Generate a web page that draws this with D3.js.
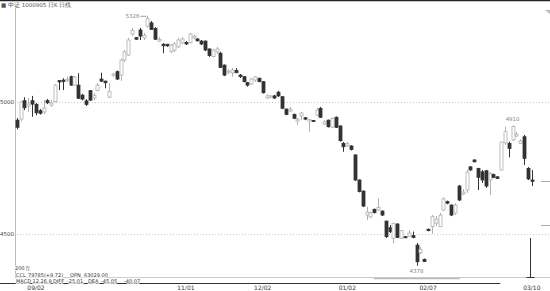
<!DOCTYPE html>
<html>
<head>
<meta charset="utf-8">
<script src="https://cdn.jsdelivr.net/npm/d3@7"></script>
<style>
  body { margin: 0; background: #fff; }
  text { font-family: "DejaVu Sans", sans-serif; }
</style>
</head>
<body>
<div id="chart"></div>
<script>
// daily candles
var opens  = [4930,4934,5004,4984,5004,4990,4966,4961,5004,4987,5000,5080,5082,5079,5095,5063,5063,5025,5003,5042,
              5014,5042,5086,5078,5017,5100,5114,5101,5158,5177,5257,5243,5272,5242,5287,5299,5278,5230,5218,5218,
              5190,5196,5208,5223,5225,5224,5242,5238,5230,5230,5200,5171,5189,5184,5139,5112,5109,5118,5101,5095,
              5072,5067,5082,5089,5076,5014,5017,5022,5036,5019,4972,4965,4952,4927,4946,4939,4927,4929,4949,4975,
              4915,4930,4903,4941,4908,4842,4833,4832,4798,4703,4661,4570,4563,4592,4589,4585,4547,4522,4482,4536,
              4482,4488,4490,4492,4456,4427,4402,4516,4526,4539,4526,4589,4621,4608,4578,4680,4650,4665,4753,4779,
              4747,4734,4738,4703,4724,4715,4741,4844,4842,4855,4870,4842,4867,4747,4703];
var highs  = [4938,5002,5017,5014,5022,4995,4972,5006,5010,5006,5067,5082,5089,5095,5099,5098,5108,5030,5010,5044,
              5033,5071,5110,5080,5070,5110,5118,5162,5196,5242,5280,5245,5280,5261,5326,5306,5283,5245,5222,5218,
              5219,5226,5242,5245,5230,5261,5255,5240,5234,5232,5202,5200,5208,5189,5141,5124,5128,5128,5105,5097,
              5075,5090,5097,5091,5078,5029,5026,5026,5041,5021,4974,4980,4955,4938,4962,4942,4934,4930,4976,4980,
              4930,4932,4940,4944,4910,4847,4847,4835,4800,4705,4663,4602,4583,4594,4634,4588,4549,4532,4541,4539,
              4513,4490,4513,4507,4464,4449,4405,4519,4570,4566,4578,4638,4625,4610,4616,4684,4669,4741,4755,4781,
              4749,4741,4741,4733,4727,4717,4848,4905,4848,4910,4885,4858,4874,4752,4741];
var lows   = [4895,4925,4968,4961,4943,4949,4951,4953,4991,4980,4997,5044,5044,5074,5060,5060,5010,5005,4984,5003,
              5006,5040,5075,5051,5014,5095,5082,5079,5151,5173,5249,5235,5234,5234,5280,5272,5234,5226,5184,5208,
              5185,5189,5204,5219,5215,5221,5237,5229,5215,5192,5170,5168,5181,5128,5097,5105,5095,5109,5090,5074,
              5057,5063,5075,5074,5031,5010,5013,5010,5018,4972,4949,4961,4934,4912,4930,4930,4886,4924,4946,4938,
              4912,4902,4900,4900,4849,4810,4828,4815,4699,4656,4600,4551,4558,4576,4585,4566,4483,4502,4463,4483,
              4480,4482,4487,4482,4378,4422,4392,4508,4498,4528,4525,4585,4611,4566,4570,4623,4646,4654,4738,4770,
              4665,4692,4673,4646,4710,4707,4739,4836,4789,4851,4866,4839,4760,4703,4680];
var closes = [4903,4999,4977,4991,4991,4958,4956,4976,4996,4995,5063,5075,5077,5085,5063,5094,5013,5010,4990,5006,
              5023,5063,5078,5072,5038,5105,5086,5158,5189,5234,5270,5237,5249,5251,5316,5274,5237,5236,5212,5212,
              5215,5219,5234,5238,5219,5257,5249,5231,5219,5196,5175,5196,5200,5130,5101,5116,5120,5110,5095,5076,
              5063,5086,5094,5076,5034,5022,5022,5014,5022,4975,4952,4972,4937,4934,4957,4934,4932,4926,4968,4941,
              4923,4905,4937,4903,4852,4829,4841,4819,4703,4659,4604,4581,4578,4579,4599,4570,4488,4507,4539,4485,
              4511,4484,4502,4485,4393,4440,4394,4511,4564,4554,4570,4631,4615,4570,4608,4627,4657,4733,4741,4772,
              4713,4703,4680,4728,4713,4709,4847,4886,4823,4906,4877,4851,4785,4707,4698];

var priceTicks = [5000, 4500];
var dateIdx    = [5, 44, 64, 86, 107, 134];
var dateLabels = ["09/02", "11/01", "12/02", "01/02", "02/07", "03/10"];
// marked extremes: candle index, value, where the label sits
var marks = [{i: 34, v: 5326, pos: "left"}, {i: 104, v: 4378, pos: "below"}, {i: 129, v: 4910, pos: "above"}];
var rightMarks = [4698, 4532];
// segments of the sub-chart strip at the bottom (candle index ranges)
var stripDark = [[10.6, 20.3], [25.7, 52], [59.5, 91.4], [109.8, 118.5], [125.8, 136.3]];
var stripGray = [[92.9, 115.3]];
// indicator readout rows: [text, x]
var infoRow1 = [["200万", 15]];
var infoRow2 = [["CCL", 16], ["79785(+9.72)", 28], ["OPN", 70], ["63029.00", 84]];
var infoRow3 = [["MACD 12.26.9", 16], ["DIFF", 53], ["-25.01", 67], ["DEA", 88], ["-45.05", 101], ["-40.07", 124]];

var W = 550, H = 291;
var n = opens.length;
var data = d3.range(n).map(function(i) {
  return {i: i, o: opens[i], h: highs[i], l: lows[i], c: closes[i]};
});

var svg = d3.select("#chart").append("svg")
  .attr("width", W).attr("height", H);

var x = d3.scaleBand()
  .domain(d3.range(n))
  .range([15.4, 533.2])
  .paddingInner(0.3);
var xc = function(i) { return x(Math.round(i)) + x.bandwidth() / 2 + (i - Math.round(i)) * x.step(); };

var y = d3.scaleLinear()
  .domain([4500, 5000])
  .range([233.5, 101.7]);

// frame
svg.append("line").attr("x1", 0).attr("x2", W).attr("y1", 0.5).attr("y2", 0.5)
  .style("stroke", "#222").style("stroke-width", 1.5);
svg.append("line").attr("x1", 15.5).attr("x2", 15.5).attr("y1", 8).attr("y2", 277)
  .style("stroke", "#bbb");
svg.append("line").attr("x1", 15).attr("x2", W).attr("y1", 277.5).attr("y2", 277.5)
  .style("stroke", "#ccc");

// title
svg.append("text").attr("x", 1).attr("y", 7)
  .style("font-size", "5.5px").style("fill", "#555")
  .text("■ 中证 1000905 日K 日线");

// top-right marker
svg.append("path").attr("d", "M545,10 L550,10 L550,14 Z").style("fill", "#bbb");

// grid + price labels
svg.selectAll(".grid").data(priceTicks).enter().append("line")
  .attr("class", "grid")
  .attr("x1", 2).attr("x2", W)
  .attr("y1", function(d) { return Math.round(y(d)) + 0.5; })
  .attr("y2", function(d) { return Math.round(y(d)) + 0.5; })
  .style("stroke", "#c8c8c8").style("stroke-dasharray", "1,2");
svg.selectAll(".ptick").data(priceTicks).enter().append("text")
  .attr("x", 14).attr("y", function(d) { return y(d) + 2; })
  .attr("text-anchor", "end")
  .style("font-size", "5.5px").style("fill", "#444")
  .style("paint-order", "stroke").style("stroke", "#fff").style("stroke-width", 2)
  .text(function(d) { return d; });

// candles
var up = function(d) { return d.c >= d.o; };
var g = svg.append("g");
g.selectAll(".wick").data(data).enter().append("line")
  .attr("x1", function(d) { return Math.round(xc(d.i)) + 0.5; })
  .attr("x2", function(d) { return Math.round(xc(d.i)) + 0.5; })
  .attr("y1", function(d) { return y(d.h); })
  .attr("y2", function(d) { return y(d.l); })
  .style("stroke", function(d) { return up(d) ? "#b0b0b0" : "#333"; });
g.selectAll(".body").data(data).enter().append("rect")
  .attr("x", function(d) { return Math.round(xc(d.i)) - 1; })
  .attr("width", 3)
  .attr("y", function(d) { return y(Math.max(d.o, d.c)); })
  .attr("height", function(d) { return Math.max(1, Math.abs(y(d.o) - y(d.c))); })
  .style("fill", function(d) { return up(d) ? "#fff" : "#333"; })
  .style("stroke", function(d) { return up(d) ? "#b0b0b0" : "#333"; })
  .style("stroke-width", 0.8);

// extreme labels
marks.forEach(function(m) {
  var cx = xc(m.i);
  if (m.pos === "left") {
    svg.append("line").attr("x1", cx - 7).attr("x2", cx - 1)
      .attr("y1", y(m.v) + 0.5).attr("y2", y(m.v) + 0.5).style("stroke", "#999");
    svg.append("text").attr("x", cx - 8).attr("y", y(m.v) + 2)
      .attr("text-anchor", "end").style("font-size", "5.5px").style("fill", "#888").text(m.v);
  } else {
    svg.append("text").attr("x", cx).attr("y", m.pos === "below" ? y(m.v) + 7 : y(m.v) - 4)
      .attr("text-anchor", "middle").style("font-size", "5.5px").style("fill", "#888").text(m.v);
  }
});

// right side price marks
svg.selectAll(".rmark").data(rightMarks).enter().append("line")
  .attr("x1", 541).attr("x2", W)
  .attr("y1", function(d) { return Math.round(y(d)) + 0.5; })
  .attr("y2", function(d) { return Math.round(y(d)) + 0.5; })
  .style("stroke", "#aaa");

// cursor line near the last candle
var cursorX = Math.round((xc(n - 2) + xc(n - 1)) / 2) + 0.5;
svg.append("line").attr("x1", cursorX).attr("x2", cursorX).attr("y1", 238).attr("y2", 277)
  .style("stroke", "#333");
svg.append("line").attr("x1", cursorX - 4).attr("x2", cursorX + 4).attr("y1", 277.5).attr("y2", 277.5)
  .style("stroke", "#333");

// bottom strip
svg.selectAll(".sdark").data(stripDark).enter().append("line")
  .attr("x1", function(d) { return xc(d[0]); }).attr("x2", function(d) { return xc(d[1]); })
  .attr("y1", 283.5).attr("y2", 283.5).style("stroke", "#333");
svg.selectAll(".sgray").data(stripGray).enter().append("line")
  .attr("x1", function(d) { return xc(d[0]); }).attr("x2", function(d) { return xc(d[1]); })
  .attr("y1", 278.5).attr("y2", 278.5).style("stroke", "#bbb").style("stroke-width", 1.5);

// info rows
var info = svg.append("g").style("font-size", "5px").style("fill", "#333");
[[infoRow1, 270], [infoRow2, 276.5], [infoRow3, 282.5]].forEach(function(row) {
  info.selectAll(null).data(row[0]).enter().append("text")
    .attr("x", function(d) { return d[1]; })
    .attr("y", row[1])
    .style("paint-order", "stroke").style("stroke", "#fff").style("stroke-width", 1.5)
    .text(function(d) { return d[0]; });
});

// date axis
svg.selectAll(".date").data(dateIdx).enter().append("text")
  .attr("x", function(d) { return xc(d); })
  .attr("y", 290)
  .attr("text-anchor", "middle")
  .style("font-size", "6px").style("fill", "#333")
  .text(function(d, k) { return dateLabels[k]; });
</script>
</body>
</html>
